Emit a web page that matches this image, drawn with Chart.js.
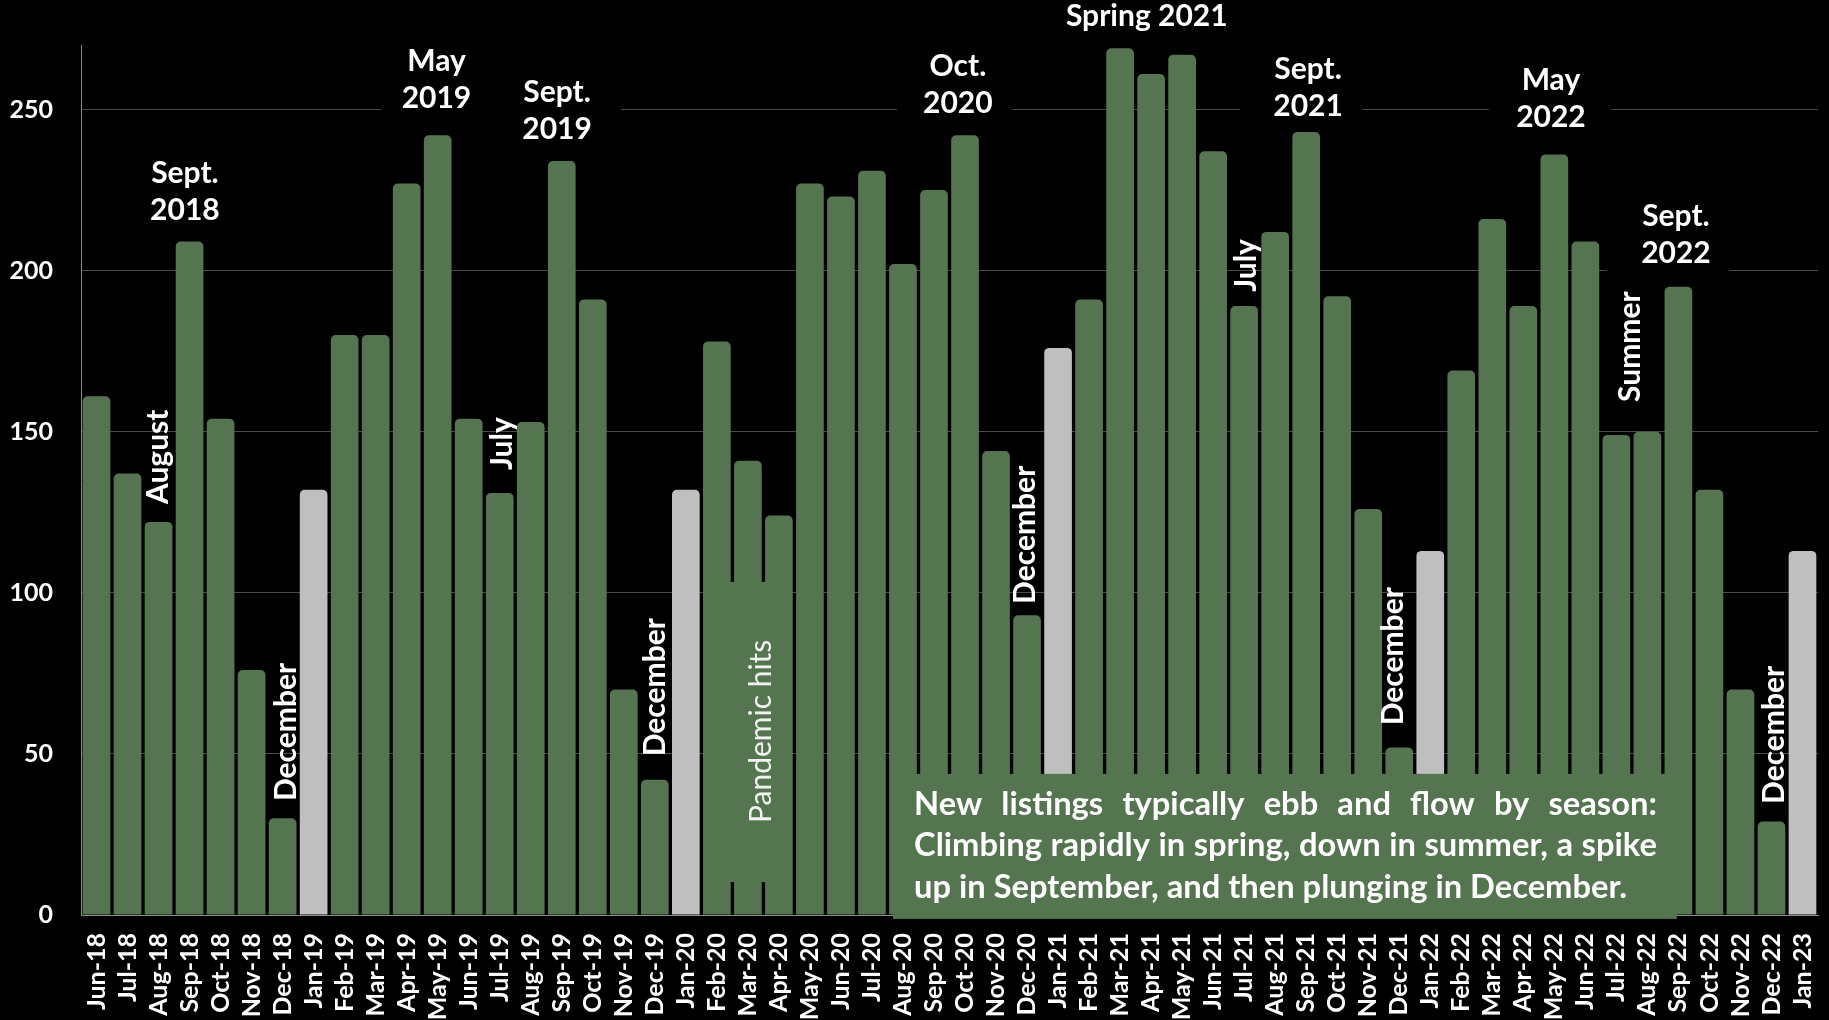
<!DOCTYPE html>
<html>
<head>
<meta charset="utf-8">
<style>
  html, body { margin: 0; padding: 0; background: #000; }
  #wrap { width: 1829px; height: 1020px; }
</style>
</head>
<body>
<div id="wrap">
    <canvas id="myChart"></canvas>
</div>

<script src="https://cdn.jsdelivr.net/npm/chart.js@4.4.1/dist/chart.umd.min.js"></script>

<script>
    // months, Jun 2018 to Jan 2023
    var months = [
        'Jun-18', 'Jul-18', 'Aug-18', 'Sep-18', 'Oct-18', 'Nov-18', 'Dec-18',
        'Jan-19', 'Feb-19', 'Mar-19', 'Apr-19', 'May-19', 'Jun-19', 'Jul-19', 'Aug-19', 'Sep-19', 'Oct-19', 'Nov-19', 'Dec-19',
        'Jan-20', 'Feb-20', 'Mar-20', 'Apr-20', 'May-20', 'Jun-20', 'Jul-20', 'Aug-20', 'Sep-20', 'Oct-20', 'Nov-20', 'Dec-20',
        'Jan-21', 'Feb-21', 'Mar-21', 'Apr-21', 'May-21', 'Jun-21', 'Jul-21', 'Aug-21', 'Sep-21', 'Oct-21', 'Nov-21', 'Dec-21',
        'Jan-22', 'Feb-22', 'Mar-22', 'Apr-22', 'May-22', 'Jun-22', 'Jul-22', 'Aug-22', 'Sep-22', 'Oct-22', 'Nov-22', 'Dec-22',
        'Jan-23'
    ];

    // new listings per month
    var newListings = [
        161, 137, 122, 209, 154, 76, 30,
        132, 180, 180, 227, 242, 154, 131, 153, 234, 191, 70, 42,
        132, 178, 141, 124, 227, 223, 231, 202, 225, 242, 144, 93,
        176, 191, 269, 261, 267, 237, 189, 212, 243, 192, 126, 52,
        113, 169, 216, 189, 236, 209, 149, 150, 195, 132, 70, 29,
        113
    ];

    // January bars are shown in grey
    var greyMonths = ['Jan-19', 'Jan-20', 'Jan-21', 'Jan-22', 'Jan-23'];

    var yTicks = [0, 50, 100, 150, 200, 250];

    var FONT = 'Lato, "Open Sans", sans-serif';
    var GREEN = '#54754f';
    var GREY = '#bfbfbf';

    // annotation text, placed in (category index, value) units
    var topNotes = [
        { lines: ['Sept.', '2018'], x: 2.85, y: 215.8 },
        { lines: ['May', '2019'], x: 10.96, y: 250.6 },
        { lines: ['Sept.', '2019'], x: 14.85, y: 240.7 },
        { lines: ['Oct.', '2020'], x: 27.77, y: 248.8 },
        { lines: ['Spring 2021'], x: 33.86, y: 275.8 },
        { lines: ['Sept.', '2021'], x: 39.06, y: 248.1 },
        { lines: ['May', '2022'], x: 46.89, y: 244.4 },
        { lines: ['Sept.', '2022'], x: 50.92, y: 202.5 }
    ];

    var sideNotes = [
        { text: 'August', x: 2.0, y: 142.2 },
        { text: 'December', x: 6.125, y: 56.8 },
        { text: 'July', x: 13.07, y: 146.3 },
        { text: 'December', x: 18.0, y: 70.7 },
        { text: 'December', x: 29.96, y: 118 },
        { text: 'July', x: 37.07, y: 201.6 },
        { text: 'December', x: 41.8, y: 80.3 },
        { text: 'Summer', x: 49.45, y: 176.4 },
        { text: 'December', x: 54.08, y: 55.9 }
    ];

    // label boxes hide bits of the gridlines
    var gridGaps = [
        { x1: 9.17, x2: 16.91, y: 250 },
        { x1: 25.81, x2: 29.54, y: 250 },
        { x1: 36.86, x2: 40.8, y: 250 },
        { x1: 44.89, x2: 48.82, y: 250 },
        { x1: 48.69, x2: 52.63, y: 200 }
    ];

    var pandemicBox = { text: 'Pandemic hits', x1: 19.62, x2: 22.42, y1: 10.2, y2: 103.4, tx: 21.44, ty: 57.0 };

    var seasonBox = {
        lines: [
            'New listings typically ebb and flow by season:',
            'Climbing rapidly in spring, down in summer, a spike',
            'up in September, and then plunging in December.'
        ],
        justify: [true, true, false],
        lastLineWidth: 714,
        x1: 25.68, x2: 50.95, y1: -1.2, y2: 43.8
    };

    function drawJustified(ctx, text, left, right, y) {
        var words = text.split(' ');
        var total = 0;
        words.forEach(function (w) { total += ctx.measureText(w).width; });
        var gap = (right - left - total) / (words.length - 1);
        var x = left;
        words.forEach(function (w) {
            ctx.fillText(w, x, y);
            x += ctx.measureText(w).width + gap;
        });
    }

    var notesPlugin = {
        id: 'notesPlugin',
        beforeDatasetsDraw: function (chart) {
            var ctx = chart.ctx, xs = chart.scales.x, ys = chart.scales.y;
            ctx.save();
            ctx.fillStyle = '#000';
            gridGaps.forEach(function (g) {
                var a = xs.getPixelForValue(g.x1), b = xs.getPixelForValue(g.x2);
                var y = ys.getPixelForValue(g.y);
                ctx.fillRect(a, y - 4, b - a, 8);
            });
            ctx.restore();
        },
        afterDatasetsDraw: function (chart) {
            var ctx = chart.ctx, xs = chart.scales.x, ys = chart.scales.y;
            ctx.save();

            // horizontal labels above the peaks
            ctx.fillStyle = '#fff';
            ctx.font = 'bold 30px ' + FONT;
            ctx.textAlign = 'center';
            ctx.textBaseline = 'alphabetic';
            topNotes.forEach(function (n) {
                var px = xs.getPixelForValue(n.x), py = ys.getPixelForValue(n.y);
                for (var i = 0; i < n.lines.length; i++) {
                    ctx.fillText(n.lines[i], px, py - (n.lines.length - 1 - i) * 37);
                }
            });

            // rotated labels
            ctx.textBaseline = 'middle';
            sideNotes.forEach(function (n) {
                ctx.save();
                ctx.translate(xs.getPixelForValue(n.x), ys.getPixelForValue(n.y));
                ctx.rotate(-Math.PI / 2);
                ctx.fillText(n.text, 0, 0);
                ctx.restore();
            });

            // pandemic box
            var b = pandemicBox;
            var bx1 = xs.getPixelForValue(b.x1), bx2 = xs.getPixelForValue(b.x2);
            var by1 = ys.getPixelForValue(b.y2), by2 = ys.getPixelForValue(b.y1);
            ctx.fillStyle = GREEN;
            ctx.fillRect(bx1, by1, bx2 - bx1, by2 - by1);
            ctx.save();
            ctx.translate(xs.getPixelForValue(b.tx), ys.getPixelForValue(b.ty));
            ctx.rotate(-Math.PI / 2);
            ctx.fillStyle = '#f2f2f2';
            ctx.font = '30px ' + FONT;
            ctx.fillText(b.text, 0, 0);
            ctx.restore();

            // season text box
            var s = seasonBox;
            var sx1 = xs.getPixelForValue(s.x1), sx2 = xs.getPixelForValue(s.x2);
            var sy1 = ys.getPixelForValue(s.y2), sy2 = ys.getPixelForValue(s.y1);
            ctx.fillStyle = GREEN;
            ctx.fillRect(sx1, sy1, sx2 - sx1, sy2 - sy1);
            ctx.fillStyle = '#fff';
            ctx.textAlign = 'left';
            ctx.textBaseline = 'alphabetic';
            // size the font so the last (unjustified) line has the reference width
            ctx.font = 'bold 28px ' + FONT;
            var size = 28 * s.lastLineWidth / ctx.measureText(s.lines[2]).width;
            size = Math.max(24, Math.min(34, size));
            ctx.font = 'bold ' + size.toFixed(1) + 'px ' + FONT;
            var left = sx1 + 21, right = sx2 - 20;
            for (var i = 0; i < s.lines.length; i++) {
                var y = sy1 + 41 + i * 41.5;
                if (s.justify[i]) {
                    drawJustified(ctx, s.lines[i], left, right, y);
                } else {
                    ctx.fillText(s.lines[i], left, y);
                }
            }
            ctx.restore();
        }
    };

    Chart.register(notesPlugin);

    var ctx = document.getElementById('myChart');

    new Chart(ctx, {
        type: 'bar',
        data: {
            labels: months,
            datasets: [{
                label: 'New listings',
                data: newListings,
                backgroundColor: months.map(function (m) {
                    return greyMonths.indexOf(m) >= 0 ? GREY : GREEN;
                }),
                borderRadius: 5,
                borderSkipped: 'start',
                barPercentage: 0.893,
                categoryPercentage: 1.0
            }]
        },
        options: {
            responsive: true,
            maintainAspectRatio: false,
            animation: false,
            layout: { padding: { top: 45, right: 11, left: 0, bottom: 0 } },
            plugins: {
                legend: { display: false },
                tooltip: { enabled: false }
            },
            scales: {
                x: {
                    grid: { display: true, drawOnChartArea: false, drawTicks: false },
                    border: { display: true, color: '#8c8c8c', width: 1 },
                    ticks: {
                        color: '#fff',
                        font: { family: FONT, size: 25, weight: 'bold' },
                        autoSkip: false,
                        minRotation: 90,
                        maxRotation: 90,
                        padding: 18
                    },
                    afterFit: function (scale) {
                        scale.height = 105;
                        scale.paddingLeft = 0;
                        scale.paddingRight = 0;
                    }
                },
                y: {
                    min: 0,
                    max: 270,
                    afterBuildTicks: function (axis) {
                        axis.ticks = yTicks.map(function (v) { return { value: v }; });
                    },
                    grid: { color: '#4a4a4a', lineWidth: 1, drawTicks: false },
                    border: { display: true, color: '#8c8c8c', width: 1 },
                    ticks: {
                        color: '#fff',
                        font: { family: FONT, size: 25, weight: 'bold' },
                        padding: 28
                    },
                    afterFit: function (scale) { scale.width = 81; }
                }
            }
        }
    });
</script>
</body>
</html>
